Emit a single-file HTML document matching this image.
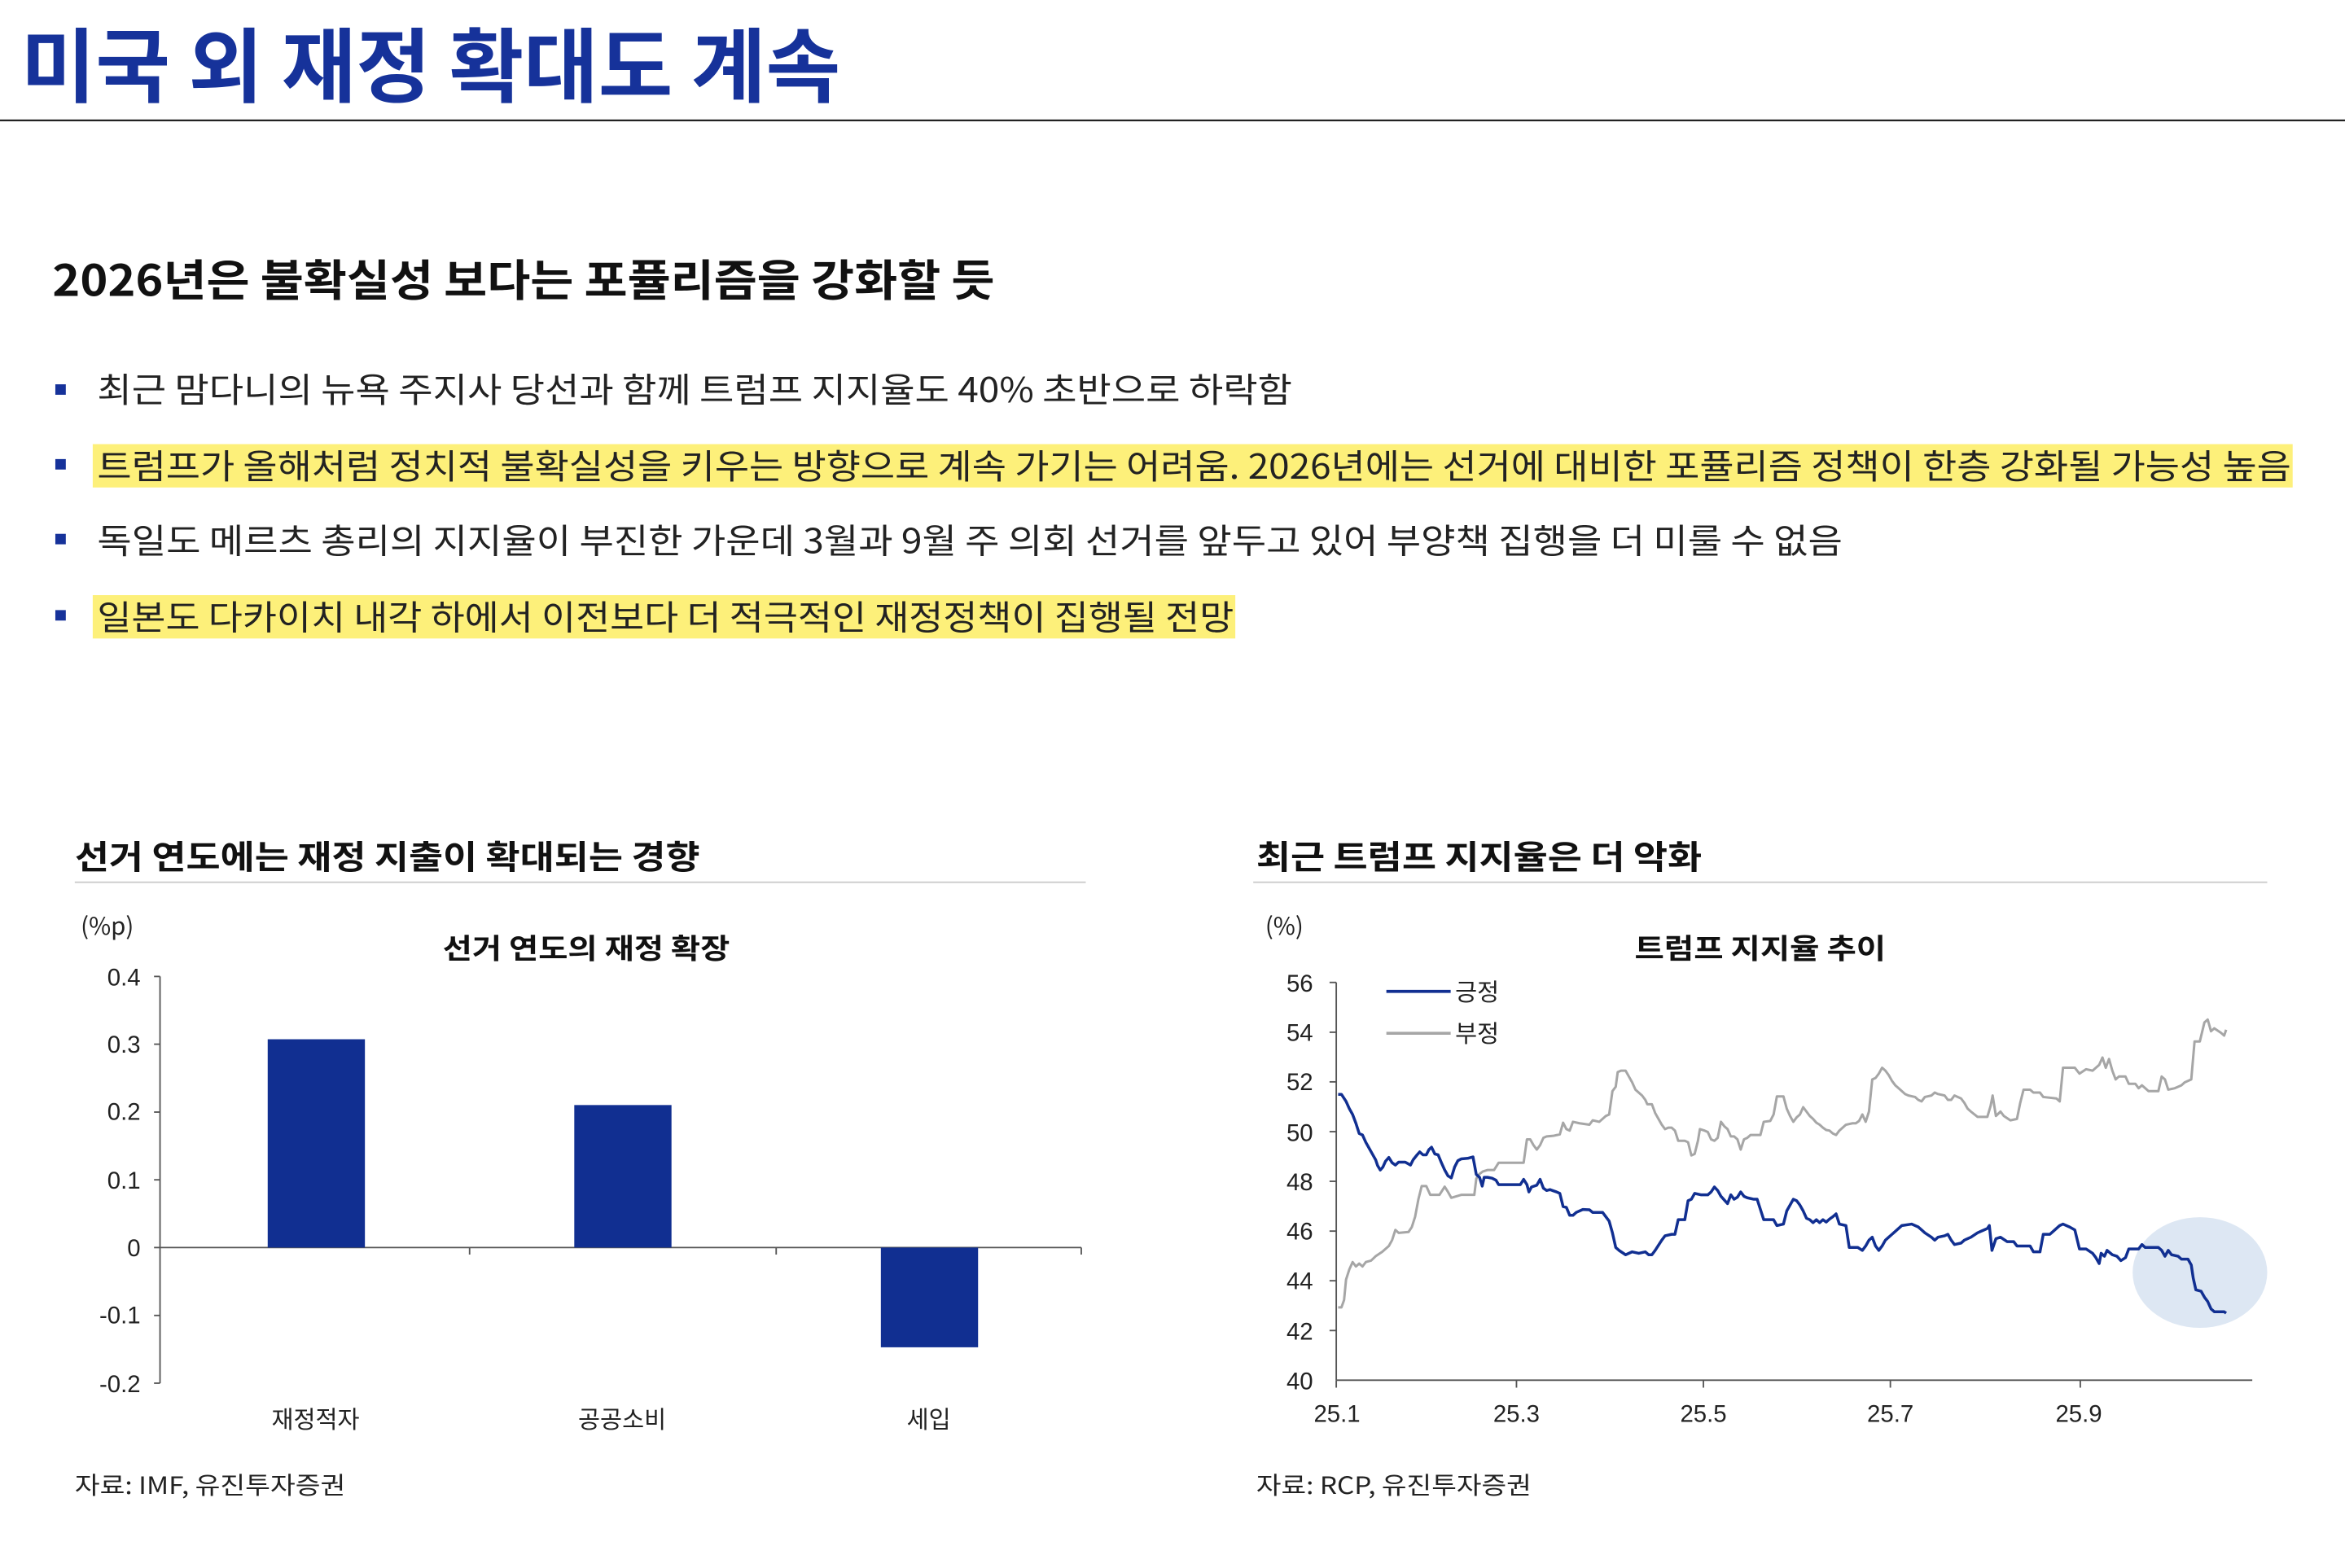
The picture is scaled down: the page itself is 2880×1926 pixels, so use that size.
<!DOCTYPE html>
<html><head><meta charset="utf-8"><style>
html,body{margin:0;padding:0;background:#fff}
svg{display:block}
text{font-family:"Liberation Sans","Noto Sans CJK KR",sans-serif}
.k{font-family:"Noto Sans CJK KR","Liberation Sans",sans-serif}
</style></head><body>
<svg width="2880" height="1926" viewBox="0 0 1568 1048.6" xmlns="http://www.w3.org/2000/svg">
<rect width="1568" height="1048.6" fill="#fff"/>
<text class="k" x="14" y="64" font-size="54" font-weight="700" fill="#16329a" textLength="548" lengthAdjust="spacingAndGlyphs">미국 외 재정 확대도 계속</text>
<line x1="0" y1="80.5" x2="1568" y2="80.5" stroke="#222" stroke-width="1.2"/>
<text class="k" x="35" y="198" font-size="29" font-weight="700" fill="#111" textLength="630" lengthAdjust="spacingAndGlyphs">2026년은 불확실성 보다는 포퓰리즘을 강화할 듯</text>
<rect x="62" y="297" width="1471" height="29" fill="#fdf07a"/>
<rect x="62" y="398" width="764" height="29" fill="#fdf07a"/>
<g font-size="23" fill="#222" class="k">
<rect x="37" y="257" width="7" height="7" fill="#16329a"/><text class="k" x="65" y="269" textLength="799" lengthAdjust="spacingAndGlyphs">최근 맘다니의 뉴욕 주지사 당선과 함께 트럼프 지지율도 40% 초반으로 하락함</text>
<rect x="37" y="307" width="7" height="7" fill="#16329a"/><text class="k" x="65" y="320" textLength="1467" lengthAdjust="spacingAndGlyphs">트럼프가 올해처럼 정치적 불확실성을 키우는 방향으로 계속 가기는 어려움. 2026년에는 선거에 대비한 포퓰리즘 정책이 한층 강화될 가능성 높음</text>
<rect x="37" y="357" width="7" height="7" fill="#16329a"/><text class="k" x="65" y="370" textLength="1167" lengthAdjust="spacingAndGlyphs">독일도 메르츠 총리의 지지율이 부진한 가운데 3월과 9월 주 의회 선거를 앞두고 있어 부양책 집행을 더 미룰 수 없음</text>
<rect x="37" y="408" width="7" height="7" fill="#16329a"/><text class="k" x="65" y="421" textLength="760" lengthAdjust="spacingAndGlyphs">일본도 다카이치 내각 하에서 이전보다 더 적극적인 재정정책이 집행될 전망</text>
</g>
<!-- left chart -->
<text class="k" x="50" y="581" font-size="22" font-weight="700" fill="#111" textLength="418" lengthAdjust="spacingAndGlyphs">선거 연도에는 재정 지출이 확대되는 경향</text>
<line x1="50" y1="590" x2="726" y2="590" stroke="#ccc" stroke-width="1"/>
<text class="k" x="54" y="625" font-size="16" fill="#222">(%p)</text>
<text class="k" x="296" y="641" font-size="19" font-weight="700" fill="#111" textLength="192" lengthAdjust="spacingAndGlyphs">선거 연도의 재정 확장</text>
<g font-size="16" fill="#222" text-anchor="end">
<text x="94" y="659">0.4</text><text x="94" y="704">0.3</text><text x="94" y="749">0.2</text><text x="94" y="795">0.1</text><text x="94" y="840">0</text><text x="94" y="885">-0.1</text><text x="94" y="931">-0.2</text>
</g>
<line x1="107" y1="653" x2="107" y2="925" stroke="#555" stroke-width="1"/>
<g stroke="#555" stroke-width="1">
<line x1="103" y1="653" x2="107" y2="653"/><line x1="103" y1="698.3" x2="107" y2="698.3"/><line x1="103" y1="743.7" x2="107" y2="743.7"/><line x1="103" y1="789" x2="107" y2="789"/><line x1="103" y1="834.3" x2="107" y2="834.3"/><line x1="103" y1="879.7" x2="107" y2="879.7"/><line x1="103" y1="925" x2="107" y2="925"/>
<line x1="107" y1="834.3" x2="723" y2="834.3"/>
<line x1="314" y1="834.3" x2="314" y2="839"/><line x1="519" y1="834.3" x2="519" y2="839"/><line x1="723" y1="834.3" x2="723" y2="839"/>
</g>
<rect x="179" y="695" width="65" height="139.3" fill="#112f91"/>
<rect x="384" y="739" width="65" height="95.3" fill="#112f91"/>
<rect x="589" y="834.3" width="65" height="66.7" fill="#112f91"/>
<g class="k" font-size="16" fill="#222" text-anchor="middle">
<text class="k" x="211" y="955">재정적자</text><text class="k" x="416" y="955">공공소비</text><text class="k" x="621" y="955">세입</text>
</g>
<text class="k" x="50" y="999" font-size="16" fill="#222" textLength="181" lengthAdjust="spacingAndGlyphs">자료: IMF, 유진투자증권</text>
<!-- right chart -->
<text class="k" x="840" y="581" font-size="22" font-weight="700" fill="#111" textLength="298" lengthAdjust="spacingAndGlyphs">최근 트럼프 지지율은 더 악화</text>
<line x1="838" y1="590" x2="1516" y2="590" stroke="#ccc" stroke-width="1"/>
<text class="k" x="846" y="625" font-size="16" fill="#222">(%)</text>
<text class="k" x="1093" y="641" font-size="19" font-weight="700" fill="#111" textLength="168" lengthAdjust="spacingAndGlyphs">트럼프 지지율 추이</text>
<ellipse cx="1471" cy="851" rx="45" ry="37" fill="#dde7f3"/>
<g font-size="16" fill="#222" text-anchor="end">
<text x="878" y="663">56</text><text x="878" y="696">54</text><text x="878" y="729">52</text><text x="878" y="763">50</text><text x="878" y="796">48</text><text x="878" y="829">46</text><text x="878" y="862">44</text><text x="878" y="896">42</text><text x="878" y="929">40</text>
</g>
<g font-size="16" fill="#222" text-anchor="middle">
<text x="894" y="951">25.1</text><text x="1014" y="951">25.3</text><text x="1139" y="951">25.5</text><text x="1264" y="951">25.7</text><text x="1390" y="951">25.9</text>
</g>
<g stroke="#555" stroke-width="1">
<line x1="893.5" y1="657" x2="893.5" y2="923"/>
<line x1="893.5" y1="923" x2="1506" y2="923"/>
<line x1="889" y1="657" x2="893.5" y2="657"/><line x1="889" y1="690.3" x2="893.5" y2="690.3"/><line x1="889" y1="723.5" x2="893.5" y2="723.5"/><line x1="889" y1="756.8" x2="893.5" y2="756.8"/><line x1="889" y1="790" x2="893.5" y2="790"/><line x1="889" y1="823.3" x2="893.5" y2="823.3"/><line x1="889" y1="856.5" x2="893.5" y2="856.5"/><line x1="889" y1="889.8" x2="893.5" y2="889.8"/>
<line x1="893.5" y1="923" x2="893.5" y2="928"/><line x1="1014" y1="923" x2="1014" y2="928"/><line x1="1139" y1="923" x2="1139" y2="928"/><line x1="1264" y1="923" x2="1264" y2="928"/><line x1="1391" y1="923" x2="1391" y2="928"/>
</g>
<line x1="927" y1="663" x2="970" y2="663" stroke="#112f91" stroke-width="2"/>
<line x1="927" y1="691" x2="970" y2="691" stroke="#a6a6a6" stroke-width="2"/>
<text class="k" x="973" y="669" font-size="16" fill="#222">긍정</text>
<text class="k" x="973" y="697" font-size="16" fill="#222">부정</text>
<g transform="scale(0.54446) translate(1540,1150) scale(0.8078,0.3589)" fill="none">
<polyline vector-effect="non-scaling-stroke" stroke="#a6a6a6" stroke-width="3" stroke-linejoin="round" points="128,1270 133,1270 137,1245 140,1175 145,1140 150,1115 155,1130 160,1120 165,1130 170,1115 178,1110 185,1095 195,1080 205,1060 210,1040 215,1005 220,1015 235,1012 240,995 245,960 250,900 255,855 262,855 268,885 282,885 290,857 295,875 300,895 315,885 335,885 338,830 342,815 348,805 355,800 365,800 372,775 410,775 415,695 420,695 425,715 430,730 435,715 440,690 445,685 455,683 465,678 470,638 475,660 480,665 485,635 495,640 510,645 515,630 525,635 535,615 540,610 545,530 550,515 553,465 558,460 565,460 570,480 575,500 580,525 590,545 595,560 598,575 605,575 610,605 615,625 620,645 625,660 630,655 635,655 640,665 645,700 655,700 660,705 665,750 670,745 675,700 678,660 685,665 690,670 695,695 700,700 705,690 710,635 715,650 720,660 725,685 730,685 735,695 740,730 745,695 750,690 755,680 770,680 775,635 785,632 790,610 795,548 805,548 810,590 815,615 820,635 825,620 830,610 835,585 840,600 845,615 850,625 855,638 860,645 865,655 870,663 875,665 880,675 885,680 890,665 900,645 910,640 915,640 920,632 925,610 930,635 935,600 940,490 945,485 950,470 955,450 960,460 965,475 970,495 975,510 980,520 985,530 990,540 995,545 1005,550 1010,560 1015,565 1020,550 1030,545 1035,535 1040,540 1050,545 1055,560 1060,560 1065,545 1075,555 1080,570 1085,590 1090,600 1100,618 1115,618 1120,580 1123,545 1128,615 1135,600 1140,615 1150,630 1160,625 1165,570 1170,525 1180,525 1185,535 1195,535 1200,550 1220,555 1225,565 1230,450 1248,450 1255,470 1265,455 1275,460 1285,440 1290,415 1295,450 1300,420 1305,460 1310,490 1315,480 1325,480 1330,505 1340,505 1345,520 1350,510 1355,520 1360,530 1375,530 1380,480 1385,490 1390,525 1400,520 1410,510 1415,500 1425,490 1430,360 1438,360 1445,295 1450,285 1455,325 1460,315 1470,330 1475,340 1478,320"/>
<polyline vector-effect="non-scaling-stroke" stroke="#112f91" stroke-width="3.5" stroke-linejoin="round" points="128,541 133,541 140,565 145,590 150,610 155,640 160,675 165,680 170,705 175,725 180,745 185,765 188,785 192,800 196,790 200,770 205,757 210,775 215,783 220,773 230,773 238,783 242,765 248,748 252,738 257,748 262,748 266,730 270,722 275,745 280,748 285,775 290,800 295,820 300,827 305,790 310,768 315,762 325,760 333,755 338,815 343,825 347,855 350,825 355,825 362,828 368,835 372,850 405,850 410,832 415,850 418,875 422,858 430,852 435,832 440,862 445,870 450,867 460,875 465,880 470,925 475,928 480,955 485,955 490,945 500,935 510,936 515,945 530,945 535,960 540,975 545,1015 550,1065 555,1075 565,1090 575,1080 585,1085 595,1080 600,1090 605,1090 610,1075 620,1040 625,1025 635,1020 640,1020 645,970 655,970 660,905 665,900 670,880 680,885 690,885 695,875 700,858 705,870 710,890 720,915 725,885 730,900 735,893 740,875 745,890 750,895 760,900 765,900 770,935 775,970 790,970 795,990 805,985 810,940 815,920 820,900 825,905 830,920 835,940 840,965 845,970 850,980 855,970 860,980 865,970 870,978 875,968 880,960 885,950 890,985 900,990 905,1065 918,1065 925,1075 930,1060 935,1040 940,1030 945,1060 950,1075 955,1060 960,1040 965,1030 970,1020 975,1010 980,1000 985,990 1000,985 1010,995 1015,1005 1020,1015 1030,1030 1035,1040 1040,1030 1050,1025 1055,1020 1060,1040 1065,1055 1075,1050 1080,1040 1090,1030 1100,1015 1105,1010 1110,1005 1115,1000 1118,990 1122,1075 1128,1035 1135,1030 1145,1045 1155,1045 1160,1060 1180,1060 1185,1080 1195,1080 1200,1020 1210,1020 1215,1010 1220,1000 1225,990 1230,985 1240,995 1248,1005 1255,1070 1265,1070 1275,1085 1280,1100 1285,1120 1288,1085 1293,1095 1297,1075 1305,1090 1312,1095 1318,1110 1325,1100 1330,1070 1345,1070 1350,1055 1355,1065 1375,1065 1380,1075 1385,1095 1390,1075 1395,1090 1405,1095 1410,1105 1420,1105 1425,1125 1428,1170 1432,1210 1440,1215 1445,1235 1450,1250 1455,1275 1460,1285 1475,1285 1478,1290"/>
</g>
<text class="k" x="840" y="999" font-size="16" fill="#222" textLength="184" lengthAdjust="spacingAndGlyphs">자료: RCP, 유진투자증권</text>
</svg>
</body></html>
